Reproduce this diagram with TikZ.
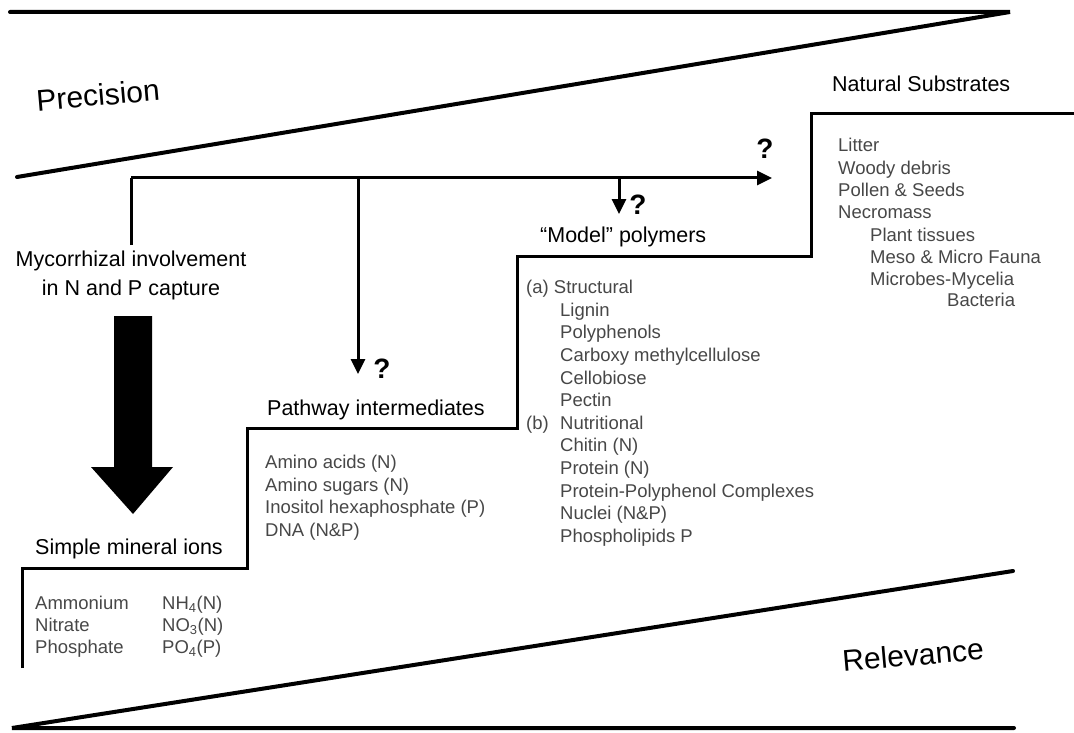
\documentclass[tikz,border=0pt]{standalone}
\usepackage{fontspec}
\setmainfont{Liberation Sans}
\usetikzlibrary{arrows.meta}
\begin{document}
\begin{tikzpicture}[x=1pt,y=-1pt,
  wedge/.style={line width=4pt, line join=miter, line cap=round},
  stair/.style={line width=3pt, line join=miter},
  conn/.style={line width=3pt, -{Triangle[length=15pt,width=14pt]}},
  head/.style={font=\fontsize{21.5}{28}\selectfont, inner sep=0pt, anchor=west, text height=15.5pt, text depth=4.5pt},
  item/.style={font=\fontsize{18.5}{22}\selectfont, text=black!72, inner sep=0pt, anchor=west, text height=13.5pt, text depth=4pt},
  qm/.style={font=\bfseries\fontsize{28}{30}\selectfont, inner sep=0pt},
  axislabel/.style={font=\fontsize{30}{34}\selectfont, inner sep=0pt, rotate=5}]
\useasboundingbox (0,0) rectangle (1074,733);

% wedges
\coordinate (tl) at (10,12);
\coordinate (tr) at (1010,12);
\coordinate (ts) at (17,177);
\draw[wedge] (tl) -- (tr) -- (ts);
\coordinate (bl) at (12,728);
\coordinate (br) at (1014,728);
\coordinate (bs) at (1013,571);
\draw[wedge] (br) -- (bl) -- (bs);
\node[axislabel] (prec) at (98,95) {Precision};
\node[axislabel] (rel) at (913,655) {Relevance};

% staircase
\draw[stair] (22,668) -- (22,568) -- (247,568) -- (247,428) -- (517,428)
  -- (517,256) -- (811,256) -- (811,114) -- (1074,114);

% headings
\node[font=\fontsize{21.5}{29}\selectfont, inner sep=0pt, align=center] (myc) at (131,275)
  {Mycorrhizal involvement\\in N and P capture};
\node[head] (simple) at (35,549) {Simple mineral ions};
\node[head] (path) at (267,410) {Pathway intermediates};
\node[head] (model) at (540,237) {“Model” polymers};
\node[head] (natural) at (832,86) {Natural Substrates};

% connectors
\coordinate (mtop) at (131,245);
\coordinate (junc) at (131,178);
\coordinate (hend) at (772,178);
\coordinate (b1s) at (358,178);
\coordinate (b1e) at (358,374);
\coordinate (b2s) at (619,178);
\coordinate (b2e) at (619,214);
\draw[line width=3pt] (mtop) -- (junc);
\draw[conn] (junc) -- (hend);
\draw[conn] (b1s) -- (b1e);
\draw[conn] (b2s) -- (b2e);
\node[qm] (q1) at (382,369) {?};
\node[qm] (q2) at (638,205) {?};
\node[qm] (q3) at (765,149) {?};

% big arrow
\fill (114,316) -- (152,316) -- (152,467) -- (173,467) -- (133,514) -- (91,467) -- (114,467) -- cycle;

% simple list
\node[item] (s1) at (35,605) {Ammonium};
\node[item] (s2) at (35,627) {Nitrate};
\node[item] (s3) at (35,649) {Phosphate};
\node[item] (f1) at (162,605) {NH\textsubscript{4}(N)};
\node[item] (f2) at (162,627) {NO\textsubscript{3}(N)};
\node[item] (f3) at (162,649) {PO\textsubscript{4}(P)};

% pathway list
\node[item] (p1) at (265,464) {Amino acids (N)};
\node[item] (p2) at (265,487) {Amino sugars (N)};
\node[item] (p3) at (265,509) {Inositol hexaphosphate (P)};
\node[item] (p4) at (265,532) {DNA (N\&P)};

% model list
\node[item] (m1) at (526,289) {(a) Structural};
\node[item] (m2) at (560,311.6) {Lignin};
\node[item] (m3) at (560,334.2) {Polyphenols};
\node[item] (m4) at (560,356.8) {Carboxy methylcellulose};
\node[item] (m5) at (560,379.4) {Cellobiose};
\node[item] (m6) at (560,402) {Pectin};
\node[item] (m7) at (526,424.6) {(b)};
\node[item] (m7b) at (560,424.6) {Nutritional};
\node[item] (m8) at (560,447.2) {Chitin (N)};
\node[item] (m9) at (560,469.8) {Protein (N)};
\node[item] (m10) at (560,492.4) {Protein-Polyphenol Complexes};
\node[item] (m11) at (560,515) {Nuclei (N\&P)};
\node[item] (m12) at (560,537.6) {Phospholipids P};

% natural list
\node[item] (n1) at (838,147) {Litter};
\node[item] (n2) at (838,170) {Woody debris};
\node[item] (n3) at (838,192) {Pollen \& Seeds};
\node[item] (n4) at (838,214) {Necromass};
\node[item] (n5) at (870,237) {Plant tissues};
\node[item] (n6) at (870,259) {Meso \& Micro Fauna};
\node[item] (n7) at (870,281) {Microbes-Mycelia};
\node[item] (n8) at (947,302) {Bacteria};
\end{tikzpicture}
\end{document}
